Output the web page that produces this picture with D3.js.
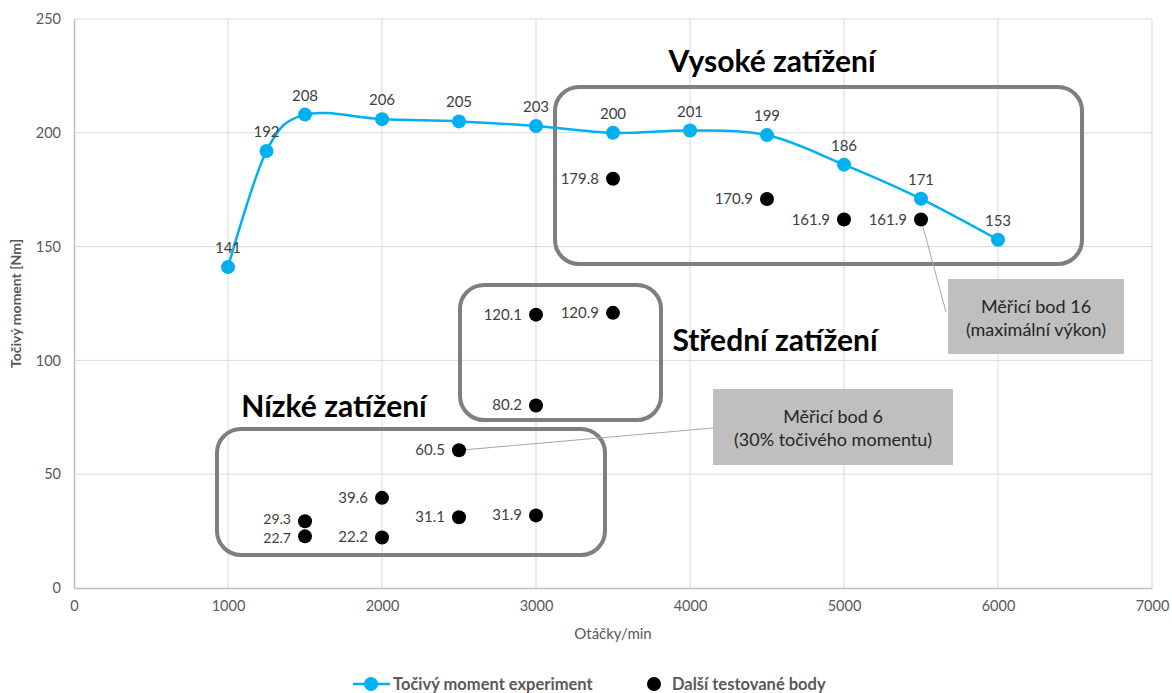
<!DOCTYPE html>
<html>
<head>
<meta charset="utf-8">
<script src="https://cdn.jsdelivr.net/npm/d3@7"></script>
<style>
  body { margin: 0; background: #fff; }
  svg { font-family: Lato, "Open Sans", sans-serif; }
</style>
</head>
<body>
<svg width="1172" height="693"></svg>
<script>
// blue series - experiment torque
var rpm = [1000, 1250, 1500, 2000, 2500, 3000, 3500, 4000, 4500, 5000, 5500, 6000];
var torque = [141, 192, 208, 206, 205, 203, 200, 201, 199, 186, 171, 153];

// other tested points
var testRpm = [1500, 1500, 2000, 2000, 2500, 2500, 3000, 3000, 3000, 3500, 3500, 4500, 5000, 5500];
var testTorque = [29.3, 22.7, 39.6, 22.2, 60.5, 31.1, 31.9, 120.1, 80.2, 120.9, 179.8, 170.9, 161.9, 161.9];

var xTicks = [0, 1000, 2000, 3000, 4000, 5000, 6000, 7000];
var yTicks = [0, 50, 100, 150, 200, 250];

var svg = d3.select("svg");
var x = d3.scaleLinear().domain([0, 7000]).range([74, 1152]);
var y = d3.scaleLinear().domain([0, 250]).range([588, 19]);

// grid
svg.append("g").selectAll("line.v").data(xTicks.slice(1)).enter()
  .append("line")
  .attr("x1", d => x(d)).attr("x2", d => x(d))
  .attr("y1", y(250)).attr("y2", y(0))
  .style("stroke", "#d9d9d9").style("stroke-width", "1px");
svg.append("g").selectAll("line.h").data(yTicks.slice(1)).enter()
  .append("line")
  .attr("x1", x(0)).attr("x2", x(7000))
  .attr("y1", d => y(d)).attr("y2", d => y(d))
  .style("stroke", "#d9d9d9").style("stroke-width", "1px");

// axes
var xAxis = svg.append("g").attr("transform", "translate(0," + y(0) + ")")
  .call(d3.axisBottom(x).tickValues(xTicks).tickFormat(d3.format("d")).tickSize(0).tickPadding(13));
var yAxis = svg.append("g").attr("transform", "translate(" + x(0) + ",0)")
  .call(d3.axisLeft(y).tickValues(yTicks).tickSize(0).tickPadding(13));
[xAxis, yAxis].forEach(function(a) {
  a.select(".domain").style("stroke", "#bfbfbf").style("stroke-width", "1.5px");
  a.selectAll("text").style("fill", "#595959").style("font-size", "14.5px")
   .style("font-family", "Lato, sans-serif");
});

svg.append("text").attr("x", x(3500)).attr("y", 639)
  .style("text-anchor", "middle").style("fill", "#595959").style("font-size", "15px")
  .text("Otáčky/min");
svg.append("text").attr("transform", "translate(21," + y(125) + ") rotate(-90)")
  .style("text-anchor", "middle").style("fill", "#595959").style("font-size", "14px")
  .style("font-weight", "bold")
  .text("Točivý moment [Nm]");

// group boxes
var boxes = [
  {x0: 555, y0: 87, x1: 1082, y1: 264},
  {x0: 460, y0: 285, x1: 661, y1: 420},
  {x0: 217, y0: 429, x1: 605, y1: 555}
];
svg.append("g").selectAll("rect").data(boxes).enter()
  .append("rect")
  .attr("x", d => d.x0).attr("y", d => d.y0)
  .attr("width", d => d.x1 - d.x0).attr("height", d => d.y1 - d.y0)
  .attr("rx", 24).attr("ry", 24)
  .style("fill", "none").style("stroke", "#7f7f7f").style("stroke-width", "4px");

var groupTitles = [
  {t: "Vysoké zatížení", x: 772, y: 72},
  {t: "Střední zatížení", x: 775, y: 351},
  {t: "Nízké zatížení", x: 334, y: 417}
];
svg.append("g").selectAll("text").data(groupTitles).enter()
  .append("text")
  .attr("x", d => d.x).attr("y", d => d.y)
  .style("text-anchor", "middle").style("font-weight", "bold").style("font-size", "30px")
  .style("fill", "#000")
  .text(d => d.t);

// callouts
var callouts = [
  {lines: ["Měřicí bod 16", "(maximální výkon)"], x0: 948, y0: 279, x1: 1124, y1: 354, px: 5500, py: 161.9, lx: 946, ly: 312},
  {lines: ["Měřicí bod 6", "(30% točivého momentu)"], x0: 713, y0: 389, x1: 953, y1: 465, px: 2500, py: 60.5, lx: 713, ly: 428}
];
var cg = svg.append("g");
cg.selectAll("line").data(callouts).enter().append("line")
  .attr("x1", d => x(d.px)).attr("y1", d => y(d.py))
  .attr("x2", d => d.lx).attr("y2", d => d.ly)
  .style("stroke", "#a6a6a6").style("stroke-width", "1px");
cg.selectAll("rect").data(callouts).enter().append("rect")
  .attr("x", d => d.x0).attr("y", d => d.y0)
  .attr("width", d => d.x1 - d.x0).attr("height", d => d.y1 - d.y0)
  .style("fill", "#bfbfbf");
cg.selectAll("text").data(callouts).enter().append("text")
  .attr("x", d => (d.x0 + d.x1) / 2).attr("y", d => (d.y0 + d.y1) / 2 - 4)
  .style("text-anchor", "middle").style("font-size", "18px").style("fill", "#262626")
  .each(function(d) {
    var t = d3.select(this);
    d.lines.forEach(function(l, i) {
      t.append("tspan").attr("x", (d.x0 + d.x1) / 2).attr("dy", i ? 23 : 0).text(l);
    });
  });

// experiment line
var pts = rpm.map(function(r, i) { return [r, torque[i]]; });
var line = d3.line().x(d => x(d[0])).y(d => y(d[1])).curve(d3.curveCatmullRom.alpha(0));
svg.append("path").datum(pts).attr("d", line)
  .style("fill", "none").style("stroke", "#00b0f0").style("stroke-width", "2.5px");
var bg = svg.append("g").selectAll("g").data(pts).enter().append("g");
bg.append("circle").attr("cx", d => x(d[0])).attr("cy", d => y(d[1])).attr("r", 7)
  .style("fill", "#00b0f0");
bg.append("text").attr("x", d => x(d[0])).attr("y", d => y(d[1]) - 14)
  .style("text-anchor", "middle").style("font-size", "15px").style("fill", "#404040")
  .text(d => d[1]);

// other points (the two stacked 1500 labels are nudged apart a bit)
var tp = testRpm.map(function(r, i) { return [r, testTorque[i]]; });
var nudge = {0: -2, 1: 2};
var kg = svg.append("g").selectAll("g").data(tp).enter().append("g");
kg.append("circle").attr("cx", d => x(d[0])).attr("cy", d => y(d[1])).attr("r", 7)
  .style("fill", "#000");
kg.append("text").attr("x", d => x(d[0]) - 14)
  .attr("y", (d, i) => y(d[1]) + 5 + (nudge[i] || 0))
  .style("text-anchor", "end").style("font-size", (d, i) => i < 2 ? "14px" : "15px")
  .style("fill", "#404040")
  .text(d => d[1].toFixed(1));

// legend
var lg = svg.append("g").attr("transform", "translate(0,684)");
lg.append("line").attr("x1", 353).attr("x2", 390).attr("y1", 0).attr("y2", 0)
  .style("stroke", "#00b0f0").style("stroke-width", "2.5px");
lg.append("circle").attr("cx", 371).attr("cy", 0).attr("r", 7).style("fill", "#00b0f0");
lg.append("text").attr("x", 393).attr("y", 6).style("font-size", "16.5px").style("font-weight", "bold")
  .style("fill", "#595959").text("Točivý moment experiment");
lg.append("circle").attr("cx", 654).attr("cy", 0).attr("r", 7).style("fill", "#000");
lg.append("text").attr("x", 672).attr("y", 6).style("font-size", "16.5px").style("font-weight", "bold")
  .style("fill", "#595959").text("Další testované body");
</script>
</body>
</html>
